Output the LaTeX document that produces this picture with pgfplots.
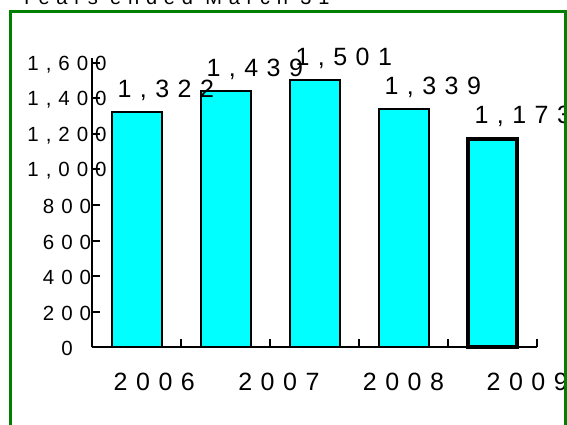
\documentclass[border=0pt]{standalone}
\usepackage{fontspec}
\setmainfont{Liberation Sans}
\newfontfamily\spaced[LetterSpace=34]{Liberation Sans}
\usepackage{pgfplots}
\pgfplotsset{compat=1.18}
\definecolor{framegreen}{RGB}{0,128,0}
\definecolor{barcyan}{RGB}{0,255,255}

\begin{document}
\begin{tikzpicture}
\useasboundingbox (0pt,0pt) rectangle (567pt,425pt);
\node[anchor=base west, inner sep=0] at (20pt,420pt)
  {\spaced\fontsize{20}{20}\selectfont Years ended March 31};

\begin{axis}[
  at={(92pt,77.7pt)}, anchor=south west,
  scale only axis, width=445pt, height=289pt,
  xmin=-0.5, xmax=4.5, ymin=0, ymax=1625,
  axis x line*=bottom, axis y line*=left,
  axis line style={line width=2pt},
  tick align=inside, major tick length=8pt,
  tick style={line width=2pt, black},
  xtick={-0.5,0.5,...,4.5}, xticklabels={},
  extra x ticks={0.2,1.6,3,4.39},
  extra x tick labels={2006,2007,2008,2009},
  extra x tick style={major tick length=0pt,
    xticklabel style={anchor=north, inner sep=0, yshift=-25.7pt,
      font=\spaced\fontsize{25}{25}\selectfont}},
  ytick={0,200,...,1600},
  yticklabels={0,200,400,600,800,{1,000},{1,200},{1,400},{1,600}},
  yticklabel style={anchor=center, inner sep=0, xshift=-25pt, yshift=-1.5pt,
    font=\spaced\fontsize{20.5}{20.5}\selectfont},
  clip=false,
  nodes near coords={\pgfmathprintnumber[1000 sep={,}, assume math mode=true]{\pgfplotspointmeta}},
  nodes near coords style={anchor=base west, inner sep=0, xshift=-20pt, yshift=15pt,
    font=\spaced\fontsize{25}{25}\selectfont, text=black},
]
\addplot[ybar, bar width=50pt, bar shift=0pt, fill=barcyan, draw=black, line width=2pt]
  coordinates {(0,1322) (1,1439) (2,1501) (3,1339)};
\addplot[ybar, bar width=49pt, bar shift=0pt, fill=barcyan, draw=black, line width=4pt]
  coordinates {(4,1173)};
\end{axis}

% outer frame on top; whatever runs past its right edge is hidden
\fill[white] (566pt,-20pt) rectangle (580pt,440pt);
\draw[framegreen, line width=3pt] (10pt,-20pt) -- (10pt,413.7pt) -- (565pt,413.7pt) -- (565pt,-20pt);
\end{tikzpicture}
\end{document}
